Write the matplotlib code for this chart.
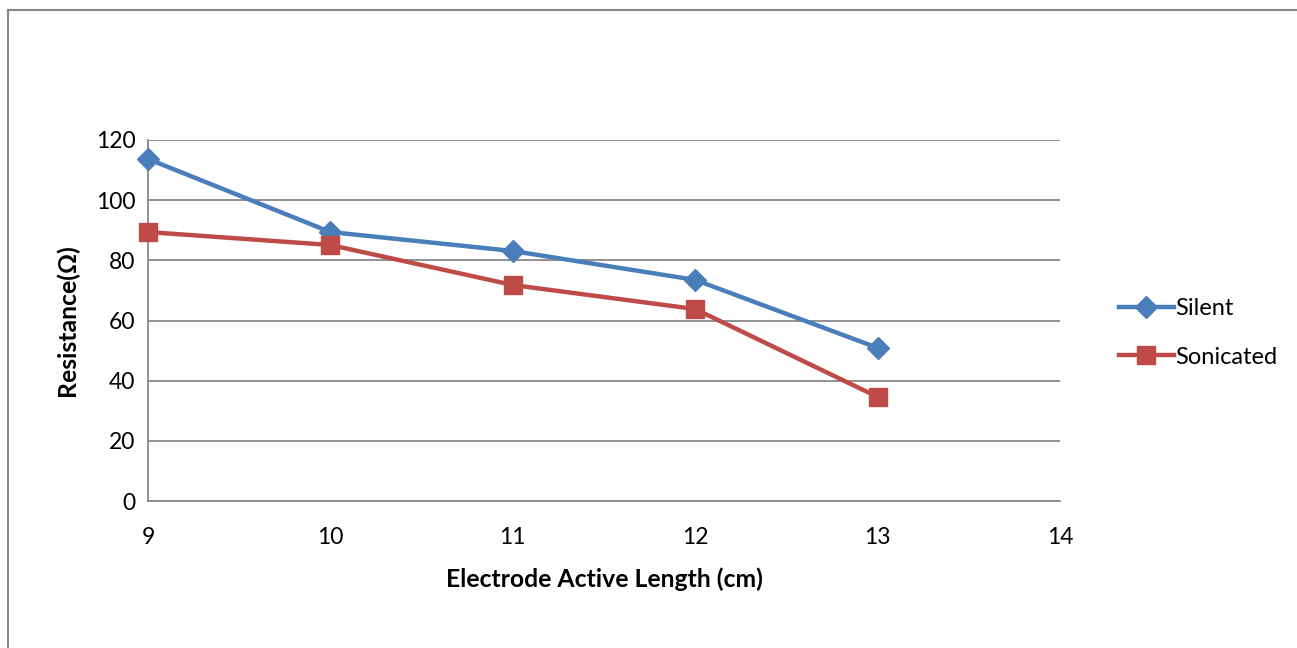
import matplotlib
matplotlib.use("Agg")
import matplotlib.pyplot as plt
from matplotlib.lines import Line2D

# data
length = [9, 10, 11, 12, 13]
silent = [113.7, 89.4, 83.1, 73.5, 50.9]
sonicated = [89.4, 85.1, 71.8, 63.8, 34.6]

plt.rcParams['font.family'] = ['Lato', 'DejaVu Sans']

fig = plt.figure(figsize=(12.97, 6.48), dpi=100)
ax = fig.add_axes([148/1297, 1-501/648, (1060-148)/1297, (501-140)/648])

grid_col = '#888888'
ax.plot(length, silent, color='#4A7EBB', lw=3.2, marker='D', ms=11, label='Silent', clip_on=False, zorder=3)
ax.plot(length, sonicated, color='#BE4B48', lw=3.2, marker='s', ms=13, label='Sonicated', clip_on=False, zorder=3)

ax.set_xlim(9, 14)
ax.set_ylim(0, 120)
ax.set_yticks(range(0, 121, 20))
ax.set_xticks(range(9, 15))
ax.yaxis.grid(True, color=grid_col, lw=1.3)
ax.set_axisbelow(True)
for s in ['top', 'right']:
    ax.spines[s].set_visible(False)
for s in ['left', 'bottom']:
    ax.spines[s].set_color(grid_col)
    ax.spines[s].set_linewidth(1.3)
ax.tick_params(length=0, labelsize=16.5, pad=9)
ax.tick_params(axis='x', pad=19)

ax.set_xlabel('Electrode Active Length (cm)', fontsize=17.8, fontweight='bold', labelpad=14)
ax.set_ylabel('Resistance(Ω)', fontsize=17.8, fontweight='bold', labelpad=12)

ax.legend(loc='center left', bbox_to_anchor=(1098/1297, 1-333/648), bbox_transform=fig.transFigure,
          frameon=False, fontsize=17, handlelength=2.3, labelspacing=1.15, handletextpad=0.05)

# chart border (left and top visible)
fig.add_artist(Line2D([8/1297, 8/1297], [0, 1-10/648], color='#888888', lw=1.5, transform=fig.transFigure))
fig.add_artist(Line2D([8/1297, 1], [1-10/648, 1-10/648], color='#888888', lw=1.5, transform=fig.transFigure))

fig.savefig('out.png', dpi=100)
